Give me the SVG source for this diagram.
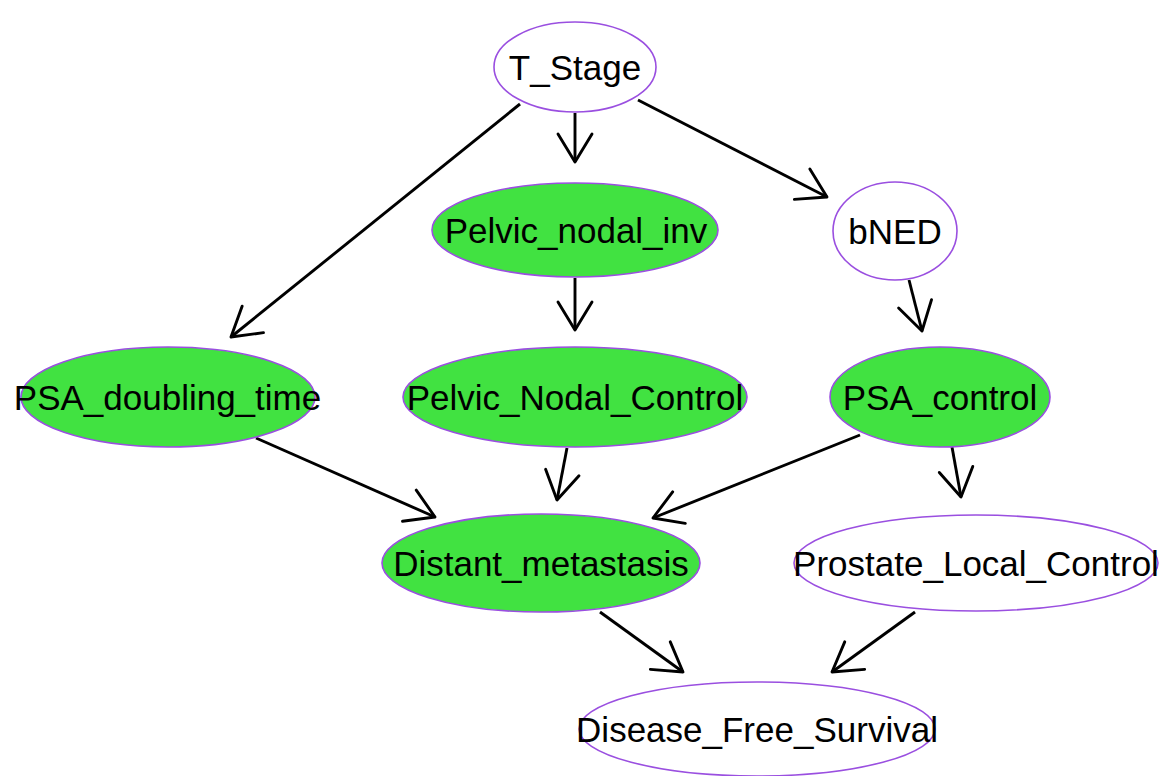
<svg xmlns="http://www.w3.org/2000/svg" width="1166" height="776" viewBox="0 0 1166 776">
<style>
.n ellipse{stroke:#9a4fe0;stroke-width:1.6}
.g ellipse{fill:#41e241}
.w ellipse{fill:#ffffff}
.n text{font-family:"Liberation Sans",Arial,sans-serif;font-size:35px;fill:#000;text-anchor:middle}
.e line{stroke:#000;stroke-width:2.9;fill:none;marker-end:url(#ah)}
</style>
<defs>
<marker id="ah" markerUnits="userSpaceOnUse" viewBox="-32 -20 36 40" markerWidth="36" markerHeight="40" refX="0" refY="0" orient="auto" overflow="visible">
<path d="M-28,-17 L0,0 L-28,17" fill="none" stroke="#000" stroke-width="2.9" stroke-linecap="round" stroke-linejoin="round"/>
</marker>
</defs>
<rect width="1166" height="776" fill="#fff"/>
<g id="edges" class="e">
<line x1="520" y1="104" x2="231" y2="337"/>
<line x1="575" y1="113" x2="575" y2="162"/>
<line x1="638" y1="100" x2="827" y2="197"/>
<line x1="575" y1="278" x2="575" y2="330"/>
<line x1="909" y1="280" x2="922" y2="331"/>
<line x1="256" y1="438" x2="435" y2="517"/>
<line x1="567" y1="448" x2="557" y2="500"/>
<line x1="860" y1="435" x2="653" y2="518"/>
<line x1="952" y1="447" x2="961" y2="497"/>
<line x1="600" y1="612" x2="683" y2="672"/>
<line x1="915" y1="612" x2="832" y2="672"/>
</g>
<g id="T_Stage" class="n w"><ellipse cx="575" cy="67" rx="81" ry="45"/><text x="575" y="79.5">T_Stage</text></g>
<g id="Pelvic_nodal_inv" class="n g"><ellipse cx="575" cy="230" rx="143" ry="47"/><text x="576" y="242.5">Pelvic_nodal_inv</text></g>
<g id="bNED" class="n w"><ellipse cx="895" cy="231" rx="62" ry="49"/><text x="895" y="243.5">bNED</text></g>
<g id="PSA_doubling_time" class="n g"><ellipse cx="168" cy="397" rx="147" ry="50"/><text x="167.5" y="409.5">PSA_doubling_time</text></g>
<g id="Pelvic_Nodal_Control" class="n g"><ellipse cx="575" cy="397" rx="172" ry="50"/><text x="575" y="409.5">Pelvic_Nodal_Control</text></g>
<g id="PSA_control" class="n g"><ellipse cx="940" cy="397" rx="110" ry="50"/><text x="940" y="409.5">PSA_control</text></g>
<g id="Distant_metastasis" class="n g"><ellipse cx="541" cy="563" rx="159" ry="49"/><text x="541" y="575.5">Distant_metastasis</text></g>
<g id="Prostate_Local_Control" class="n w"><ellipse cx="976" cy="563" rx="182" ry="48"/><text x="976" y="575.5">Prostate_Local_Control</text></g>
<g id="Disease_Free_Survival" class="n w"><ellipse cx="757" cy="729" rx="178" ry="47"/><text x="757" y="741.5">Disease_Free_Survival</text></g>
</svg>
